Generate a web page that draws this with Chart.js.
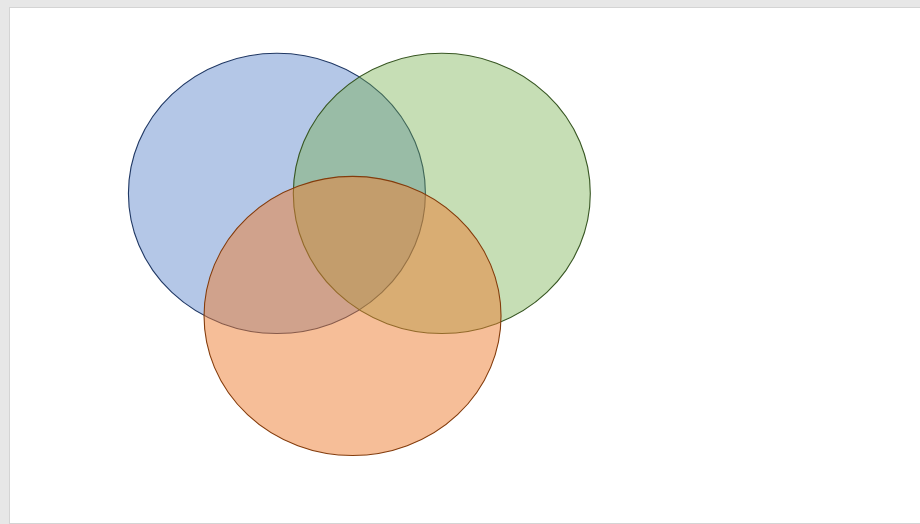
<!DOCTYPE html>
<html>
<head>
<meta charset="utf-8">
<script src="https://cdn.jsdelivr.net/npm/chart.js@4.4.1/dist/chart.umd.min.js"></script>
<style>
	html, body { margin: 0; padding: 0; background: #e7e7e7; width: 920px; height: 524px; overflow: hidden; }
	#frame {
		position: absolute; left: 9px; top: 7px; width: 911px; height: 515px;
		background: #fff; border-left: 1px solid #d4d4d4; border-top: 1px solid #d4d4d4; border-bottom: 1px solid #d4d4d4;
	}
	#frame canvas { display: block; }
</style>
</head>
<body>
<div id="frame"><canvas id="myChart_venn" width="911" height="515"></canvas></div>
<script>
// Venn sets: centre and radii in chart units (x 0-100, y 0-100)
const setNames = ['Set A', 'Set B', 'Set C'];
const centerX = [29.3, 47.4, 37.6];
const centerY = [64.0, 64.0, 40.2];
const radiusX = [16.3, 16.3, 16.3];
const radiusY = [27.2, 27.2, 27.1];

const fillColors = ['rgba(68, 114, 196, 0.4)', 'rgba(112, 173, 71, 0.4)', 'rgba(237, 125, 49, 0.5)'];
const lineColors = ['#203864', '#385723', '#843C0C'];

// draws each point as an ellipse sized through the x / y scales
const ellipsePlugin = {
	id: 'ellipses',
	afterDatasetsDraw(chart) {
		const ctx = chart.ctx;
		const xs = chart.scales.x;
		const ys = chart.scales.y;
		chart.data.datasets.forEach((ds) => {
			ds.data.forEach((p) => {
				const cx = xs.getPixelForValue(p.x);
				const cy = ys.getPixelForValue(p.y);
				const rx = Math.abs(xs.getPixelForValue(p.x + p.rx) - cx);
				const ry = Math.abs(ys.getPixelForValue(p.y + p.ry) - cy);
				ctx.save();
				ctx.beginPath();
				ctx.ellipse(cx, cy, rx, ry, 0, 0, Math.PI * 2);
				ctx.fillStyle = ds.backgroundColor;
				ctx.fill();
				ctx.lineWidth = 1.1;
				ctx.strokeStyle = ds.borderColor;
				ctx.stroke();
				ctx.restore();
			});
		});
	}
};

const ctx = document.getElementById('myChart_venn').getContext('2d');
const myChart_venn = new Chart(ctx, {
	type: 'scatter',
	data: {
		datasets: setNames.map((name, i) => ({
			label: name,
			data: [{ x: centerX[i], y: centerY[i], rx: radiusX[i], ry: radiusY[i] }],
			backgroundColor: fillColors[i],
			borderColor: lineColors[i],
			pointRadius: 0,
			pointHoverRadius: 0,
		}))
	},
	options: {
		responsive: false,
		animation: false,
		layout: { padding: 0 },
		scales: {
			x: { display: false, min: 0, max: 100 },
			y: { display: false, min: 0, max: 100 },
		},
		plugins: {
			legend: { display: false },
			tooltip: { enabled: false },
			title: { display: false }
		}
	},
	plugins: [ellipsePlugin]
});
</script>
</body>
</html>
